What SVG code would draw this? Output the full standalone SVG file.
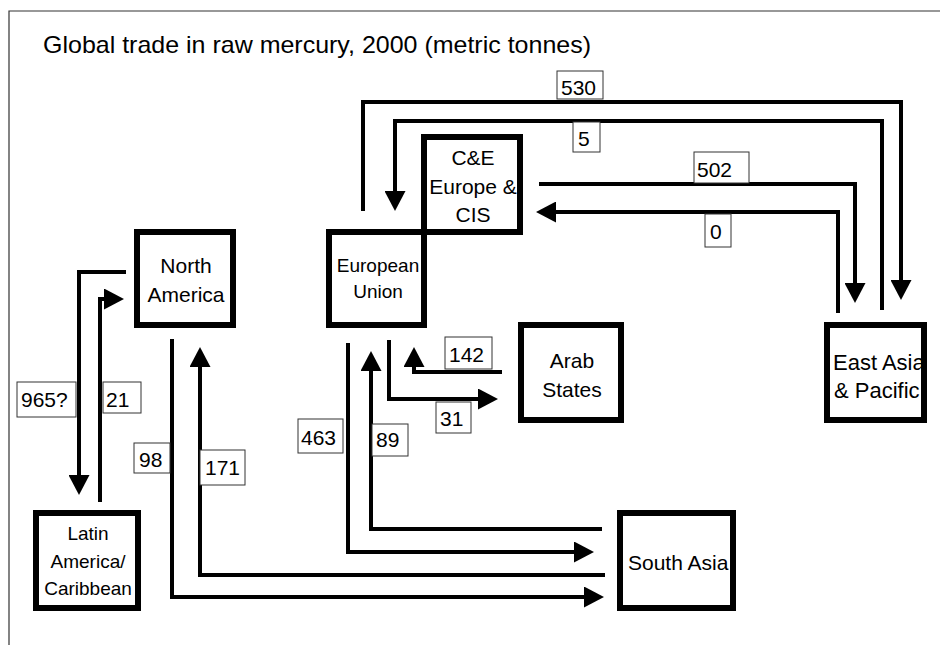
<svg xmlns="http://www.w3.org/2000/svg" width="940" height="645" viewBox="0 0 940 645">
<style>
text{font-family:"Liberation Sans",Arial,sans-serif;fill:#000}
.node rect{fill:#fff;stroke:#000;stroke-width:6}
.node text{font-size:21px;text-anchor:middle}
.node text.sm{font-size:19px}
.node text.st{text-anchor:start}
.node text.big{font-size:22px}
.conn path{fill:none;stroke:#000;stroke-width:4}
.lbl rect{fill:#fff;stroke:#333;stroke-width:1}
.lbl text{font-size:21px}
</style>
<defs>
<marker id="ah" viewBox="0 0 20 21" markerWidth="20" markerHeight="21" refX="10" refY="10.5" orient="auto" markerUnits="userSpaceOnUse">
<path d="M0,0 L20,10.5 L0,21 Z" fill="#000"/>
</marker>
</defs>
<rect x="0" y="0" width="940" height="645" fill="#fff"/>
<path d="M9,645 V11 H940" fill="none" stroke="#333" stroke-width="1.2"/>
<text x="43" y="53" font-size="24" textLength="548" lengthAdjust="spacingAndGlyphs">Global trade in raw mercury, 2000 (metric tonnes)</text>

<g id="connectors" class="conn">
<path d="M126,272 H79 V485" marker-end="url(#ah)"/>
<path d="M100,502 V299 H114" marker-end="url(#ah)"/>
<path d="M172,339 V597 H594" marker-end="url(#ah)"/>
<path d="M605,575 H200 V357" marker-end="url(#ah)"/>
<path d="M348,343 V552 H584" marker-end="url(#ah)"/>
<path d="M602,529 H371 V361" marker-end="url(#ah)"/>
<path d="M389,340 V399 H488" marker-end="url(#ah)"/>
<path d="M502,372 H414 V357" marker-end="url(#ah)"/>
<path d="M363,211 V102 H901 V290" marker-end="url(#ah)"/>
<path d="M882,310 V121 H395 V201" marker-end="url(#ah)"/>
<path d="M539,184 H855 V293" marker-end="url(#ah)"/>
<path d="M838,313 V212 H546" marker-end="url(#ah)"/>
</g>

<g id="labels" class="lbl">
<g id="l530"><rect x="557" y="71" width="46" height="28"/><text x="561" y="95">530</text></g>
<g id="l5"><rect x="573" y="122" width="27" height="30"/><text x="578" y="146">5</text></g>
<g id="l502"><rect x="694" y="152" width="55" height="31"/><text x="697" y="177">502</text></g>
<g id="l0"><rect x="705" y="214" width="26" height="33"/><text x="710" y="239">0</text></g>
<g id="l142"><rect x="445" y="337" width="47" height="32"/><text x="449" y="362">142</text></g>
<g id="l31"><rect x="436" y="402" width="35" height="31"/><text x="440" y="426">31</text></g>
<g id="l965"><rect x="17" y="382" width="59" height="35"/><text x="21" y="407">965?</text></g>
<g id="l21"><rect x="103" y="382" width="38" height="31"/><text x="106" y="407">21</text></g>
<g id="l98"><rect x="134" y="443" width="36" height="30"/><text x="139" y="467">98</text></g>
<g id="l171"><rect x="200" y="450" width="45" height="35"/><text x="205" y="475">171</text></g>
<g id="l463"><rect x="298" y="419" width="45" height="34"/><text x="301" y="445">463</text></g>
<g id="l89"><rect x="372" y="424" width="36" height="32"/><text x="376" y="447">89</text></g>
</g>

<g id="north-america" class="node"><rect x="137" y="232" width="96" height="93"/><text x="186" y="273">North</text><text x="186" y="302">America</text></g>
<g id="european-union" class="node"><rect x="329" y="232" width="95" height="93"/><text class="sm" x="378" y="272">European</text><text class="sm" x="378" y="298">Union</text></g>
<g id="ce-europe-cis" class="node"><rect x="424" y="137" width="96" height="95"/><text x="473" y="165">C&amp;E</text><text x="473" y="194">Europe &amp;</text><text x="473" y="222">CIS</text></g>
<g id="arab-states" class="node"><rect x="521" y="325" width="100" height="95"/><text x="572" y="368">Arab</text><text x="572" y="397">States</text></g>
<g id="east-asia-pacific" class="node"><text class="st big" x="833" y="370">East Asia</text><text class="st big" x="834" y="398">&amp; Pacific</text><rect x="827" y="325" width="97" height="95" style="fill:none"/></g>
<g id="south-asia" class="node"><rect x="620" y="513" width="113" height="95"/><text class="st" x="628" y="570">South Asia</text></g>
<g id="latin-america" class="node"><rect x="36" y="513" width="102" height="95"/><text class="sm" x="88" y="540">Latin</text><text class="sm" x="88" y="568">America/</text><text class="sm" x="88" y="595">Caribbean</text></g>
</svg>
